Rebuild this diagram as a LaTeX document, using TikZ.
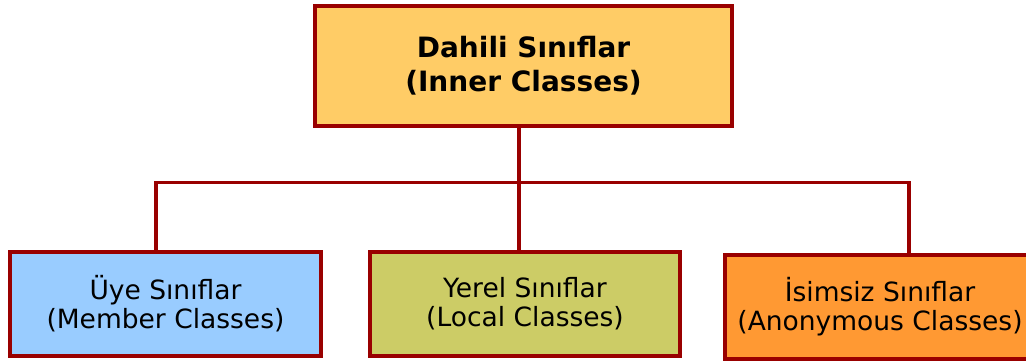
\documentclass[tikz,border=0pt]{standalone}
\usepackage{fontspec}
\setmainfont{DejaVu Sans}
\definecolor{bordred}{HTML}{990000}
\definecolor{topfill}{HTML}{FFCC66}
\definecolor{bluefill}{HTML}{99CCFF}
\definecolor{olivefill}{HTML}{CCCC66}
\definecolor{orangefill}{HTML}{FF9933}
\definecolor{txt}{HTML}{000000}
\tikzset{
  box/.style={draw=bordred, line width=3.6pt, rectangle, align=center, text=txt, inner sep=0pt},
  topbox/.style={box, fill=topfill, minimum width=417.4pt, minimum height=120.4pt, font=\fontsize{28}{34}\selectfont\bfseries},
  subbox/.style={box, minimum width=310.4pt, minimum height=104.4pt, font=\fontsize{26.5}{29}\selectfont},
  link/.style={draw=bordred, line width=3.4pt}
}
\begin{document}
\begin{tikzpicture}[x=1pt,y=1pt]
\useasboundingbox (0,0) rectangle (1026,-363);
\clip (0,0) rectangle (1026,-363);
\node[topbox] (top) at (523.5,-66) {Dahili Sınıflar\\(Inner Classes)};
\node[subbox, fill=bluefill, minimum width=311.4pt] (left) at (165.5,-304) {Üye Sınıflar\\(Member Classes)};
\node[subbox, fill=olivefill] (mid) at (525,-304) {Yerel Sınıflar\\(Local Classes)};
\node[subbox, fill=orangefill] (right) at (880,-307) {İsimsiz Sınıflar\\(Anonymous Classes)};
\coordinate (j) at (519,-182.5);
\coordinate (jl) at (156,-182.5);
\coordinate (jr) at (909,-182.5);
\draw[link] (top.south -| j) -- (j |- mid.north);
\draw[link, line join=miter] (jl |- left.north) -- (jl) -- (jr) -- (jr |- right.north);
\end{tikzpicture}
\end{document}
